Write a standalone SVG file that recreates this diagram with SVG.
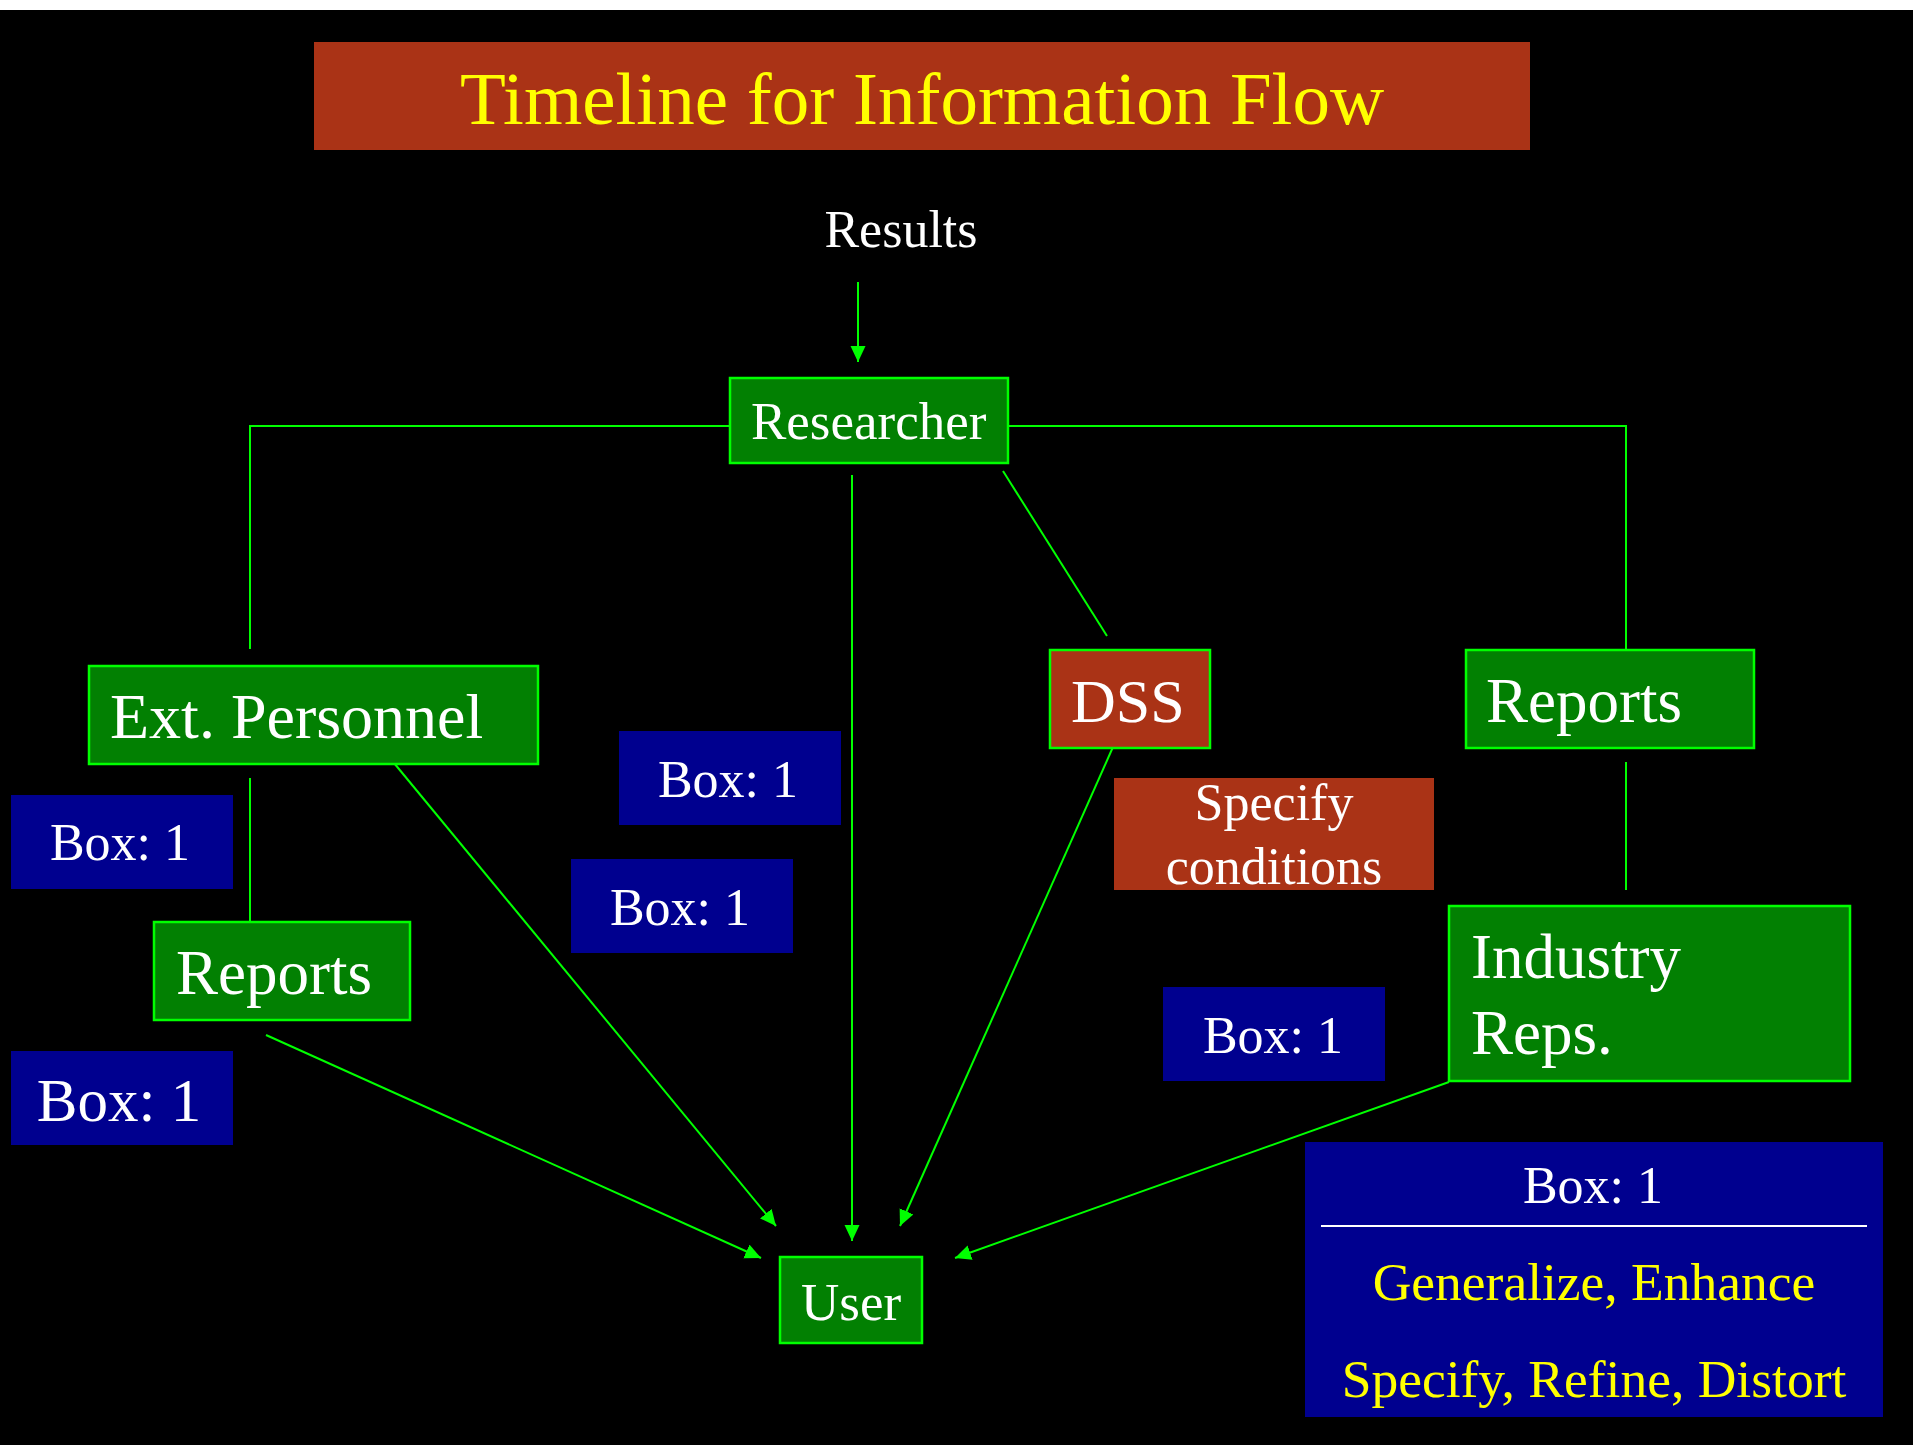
<svg xmlns="http://www.w3.org/2000/svg" width="1913" height="1445" viewBox="0 0 1913 1445">
<style>
text{font-family:"Liberation Serif","Times New Roman",serif;}
.g{fill:#028002;stroke:#00ff00;stroke-width:2.5;}
.b{fill:#00008f;}
.r{fill:#aa3316;}
.w{fill:#ffffff;}
.y{fill:#ffff00;}
.c{stroke:#00ff00;stroke-width:2;fill:none;}
</style>
<defs>
<marker id="ah" markerUnits="userSpaceOnUse" markerWidth="18" markerHeight="16" refX="16" refY="7.5" orient="auto">
<path d="M0,0 L16,7.5 L0,15 Z" fill="#00ff00"/>
</marker>
</defs>
<rect x="0" y="0" width="1913" height="1445" fill="#000"/>
<rect x="0" y="0" width="1913" height="10" fill="#fff"/>
<g id="title">
<rect x="314" y="42" width="1216" height="108" class="r"/>
<text x="922" y="124" font-size="75" text-anchor="middle" class="y">Timeline for Information Flow</text>
</g>
<g id="results">
<text x="901" y="247" font-size="52" text-anchor="middle" class="w">Results</text>
</g>
<g id="connectors">
<line x1="858" y1="282" x2="858" y2="362" class="c" marker-end="url(#ah)"/>
<polyline points="730,426 250,426 250,649" class="c"/>
<polyline points="1008,426 1626,426 1626,650" class="c"/>
<line x1="250" y1="778" x2="250" y2="922" class="c"/>
<line x1="1626" y1="762" x2="1626" y2="890" class="c"/>
<line x1="1003" y1="471" x2="1107" y2="636" class="c"/>
<line x1="394" y1="763" x2="776" y2="1226" class="c" marker-end="url(#ah)"/>
<line x1="852" y1="475" x2="852" y2="1241" class="c" marker-end="url(#ah)"/>
<line x1="266" y1="1035" x2="761" y2="1258" class="c" marker-end="url(#ah)"/>
<line x1="1113" y1="747" x2="900" y2="1226" class="c" marker-end="url(#ah)"/>
<line x1="1449" y1="1082" x2="955" y2="1258" class="c" marker-end="url(#ah)"/>
</g>
<g id="researcher">
<rect x="730" y="378" width="278" height="85" class="g"/>
<text x="751" y="439" font-size="53" class="w">Researcher</text>
</g>
<g id="ext-personnel">
<rect x="89" y="666" width="449" height="98" class="g"/>
<text x="110" y="738" font-size="64" class="w">Ext. Personnel</text>
</g>
<g id="reports-left">
<rect x="154" y="922" width="256" height="98" class="g"/>
<text x="176" y="994" font-size="63" class="w">Reports</text>
</g>
<g id="dss">
<rect x="1050" y="650" width="160" height="98" class="r" stroke="#00ff00" stroke-width="2.5"/>
<text x="1071" y="722" font-size="62" class="w">DSS</text>
</g>
<g id="specify-conditions">
<rect x="1114" y="778" width="320" height="112" class="r"/>
<text x="1274" y="820" font-size="52" text-anchor="middle" class="w">Specify</text>
<text x="1274" y="884" font-size="52" text-anchor="middle" class="w">conditions</text>
</g>
<g id="reports-right">
<rect x="1466" y="650" width="288" height="98" class="g"/>
<text x="1486" y="722" font-size="63" class="w">Reports</text>
</g>
<g id="industry-reps">
<rect x="1449" y="906" width="401" height="175" class="g"/>
<text x="1471" y="978" font-size="63" class="w">Industry</text>
<text x="1471" y="1054" font-size="63" class="w">Reps.</text>
</g>
<g id="user">
<rect x="780" y="1257" width="142" height="86" class="g"/>
<text x="801" y="1320" font-size="53" class="w">User</text>
</g>
<g id="box-1a">
<rect x="11" y="795" width="222" height="94" class="b"/>
<text x="120" y="860" font-size="52" text-anchor="middle" class="w">Box: 1</text>
</g>
<g id="box-1b">
<rect x="619" y="731" width="222" height="94" class="b"/>
<text x="728" y="797" font-size="52" text-anchor="middle" class="w">Box: 1</text>
</g>
<g id="box-1c">
<rect x="571" y="859" width="222" height="94" class="b"/>
<text x="680" y="925" font-size="52" text-anchor="middle" class="w">Box: 1</text>
</g>
<g id="box-1d">
<rect x="1163" y="987" width="222" height="94" class="b"/>
<text x="1273" y="1053" font-size="52" text-anchor="middle" class="w">Box: 1</text>
</g>
<g id="box-1e">
<rect x="11" y="1051" width="222" height="94" class="b"/>
<text x="119" y="1121" font-size="61" text-anchor="middle" class="w">Box: 1</text>
</g>
<g id="legend">
<rect x="1305" y="1142" width="578" height="275" class="b"/>
<text x="1593" y="1203" font-size="52" text-anchor="middle" class="w">Box: 1</text>
<line x1="1321" y1="1226" x2="1867" y2="1226" stroke="#fff" stroke-width="2"/>
<text x="1594" y="1300" font-size="53.5" text-anchor="middle" class="y">Generalize, Enhance</text>
<text x="1594" y="1397" font-size="53.5" text-anchor="middle" class="y">Specify, Refine, Distort</text>
</g>
</svg>
